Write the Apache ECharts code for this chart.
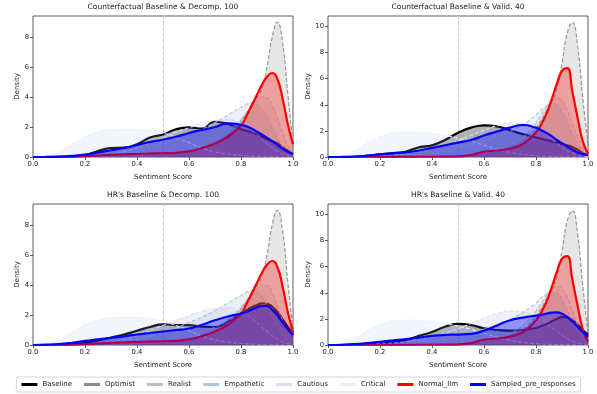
<!DOCTYPE html>
<html>
<head>
<meta charset="utf-8">
<script src="https://cdn.jsdelivr.net/npm/echarts@6/dist/echarts.min.js"></script>
<style>
  html, body { margin: 0; padding: 0; background: #ffffff; }
  #chart { width: 597px; height: 394px; }
</style>
</head>
<body>
<div id="chart"></div>
<script>
// Sentiment score grid shared by every density curve
const scoreGrid = [0, 0.05, 0.1, 0.15, 0.2, 0.25, 0.3, 0.35, 0.4, 0.45, 0.5, 0.55, 0.6, 0.65, 0.7, 0.75,
                   0.8, 0.82, 0.84, 0.86, 0.88, 0.9, 0.92, 0.94, 0.96, 0.98, 1.0];

const panelTitles = [
  'Counterfactual Baseline & Decomp. 100',
  'Counterfactual Baseline & Valid. 40',
  "HR's Baseline & Decomp. 100",
  "HR's Baseline & Valid. 40"
];

const seriesNames = ['Baseline', 'Optimist', 'Realist', 'Empathetic', 'Cautious', 'Critical', 'Normal_llm', 'Sampled_pre_responses'];

const xTicks = [0, 0.2, 0.4, 0.6, 0.8, 1.0];
const yTicksDecomp = [0, 2, 4, 6, 8];
const yTicksValid = [0, 2, 4, 6, 8, 10];
const yMaxDecomp = 9.4;
const yMaxValid = 10.8;

// Baselines
const baselineCfDecomp = [0, 0, 0.01, 0.03, 0.12, 0.4, 0.6, 0.62, 0.85, 1.3, 1.5, 1.85, 1.97, 1.9, 2.35, 2.2,
                          1.85, 1.75, 1.65, 1.5, 1.35, 1.2, 1.05, 0.9, 0.65, 0.4, 0.2];
const baselineCfValid = [0, 0, 0.02, 0.08, 0.2, 0.3, 0.42, 0.75, 0.9, 1.3, 1.85, 2.25, 2.43, 2.35, 2.05, 1.75,
                         1.5, 1.4, 1.3, 1.2, 1.1, 1.0, 0.9, 0.77, 0.55, 0.3, 0.1];
const baselineHrDecomp = [0, 0, 0.01, 0.05, 0.15, 0.3, 0.5, 0.7, 0.95, 1.2, 1.38, 1.33, 1.33, 1.22, 1.2, 1.55,
                          2.1, 2.3, 2.5, 2.65, 2.78, 2.75, 2.55, 2.2, 1.7, 1.2, 0.7];
const baselineHrValid = [0, 0, 0.01, 0.04, 0.1, 0.2, 0.38, 0.7, 1.0, 1.4, 1.62, 1.53, 1.28, 1.15, 1.1, 1.15,
                         1.3, 1.45, 1.6, 1.8, 2.0, 2.15, 2.1, 1.9, 1.55, 1.15, 0.8];

// Persona curves, Decomp. 100
const optimistDecomp = [0, 0, 0, 0, 0, 0, 0, 0, 0.01, 0.02, 0.03, 0.05, 0.2, 0.5, 0.9, 1.5,
                        2.4, 2.9, 3.4, 3.9, 4.6, 6.0, 8.0, 9.0, 7.6, 4.2, 0.9];
const realistDecomp = [0, 0, 0, 0, 0, 0, 0.01, 0.02, 0.05, 0.1, 0.2, 0.35, 0.55, 0.85, 1.2, 1.7,
                       2.5, 2.9, 3.3, 3.7, 4.0, 3.95, 3.5, 2.6, 1.6, 0.8, 0.3];
const empatheticDecomp = [0, 0, 0, 0.01, 0.03, 0.08, 0.15, 0.25, 0.4, 0.6, 0.85, 1.15, 1.5, 1.85, 2.3, 2.8,
                          3.3, 3.5, 3.6, 3.5, 3.2, 2.7, 2.0, 1.3, 0.7, 0.3, 0.1];
const cautiousDecomp = [0, 0, 0, 0.02, 0.05, 0.1, 0.2, 0.35, 0.6, 0.95, 1.3, 1.65, 1.95, 2.25, 2.45, 2.5,
                        2.25, 2.05, 1.8, 1.5, 1.2, 0.9, 0.6, 0.4, 0.2, 0.1, 0.05];
const criticalDecomp = [0, 0.08, 0.35, 0.85, 1.35, 1.68, 1.83, 1.86, 1.85, 1.78, 1.6, 1.3, 0.95, 0.6, 0.35, 0.2,
                        0.1, 0.08, 0.06, 0.04, 0.03, 0.02, 0.01, 0.01, 0, 0, 0];
const normalDecomp = [0, 0, 0, 0.01, 0.05, 0.1, 0.15, 0.18, 0.2, 0.23, 0.25, 0.27, 0.38, 0.6, 0.9, 1.35,
                      2.1, 2.7, 3.4, 4.1, 4.8, 5.35, 5.6, 5.2, 3.9, 2.2, 0.85];

// Persona curves, Valid. 40
const optimistValid = [0, 0, 0, 0, 0, 0, 0, 0, 0, 0.01, 0.02, 0.05, 0.15, 0.35, 0.7, 1.2,
                       2.2, 2.8, 3.5, 4.2, 5.2, 7.2, 9.5, 10.3, 8.5, 4.5, 0.9];
const realistValid = [0, 0, 0, 0, 0, 0, 0.01, 0.02, 0.04, 0.08, 0.15, 0.25, 0.4, 0.6, 0.9, 1.5,
                      2.6, 3.2, 3.8, 4.3, 4.5, 4.3, 3.6, 2.6, 1.5, 0.7, 0.25];
const empatheticValid = [0, 0, 0, 0.01, 0.02, 0.05, 0.1, 0.18, 0.3, 0.45, 0.65, 0.9, 1.2, 1.55, 1.95, 2.5,
                         3.2, 3.6, 3.9, 4.1, 4.0, 3.5, 2.7, 1.8, 1.0, 0.45, 0.15];
const cautiousValid = [0, 0, 0.01, 0.03, 0.08, 0.15, 0.25, 0.4, 0.6, 0.9, 1.25, 1.65, 2.05, 2.4, 2.6, 2.55,
                       2.2, 1.95, 1.65, 1.35, 1.05, 0.75, 0.5, 0.3, 0.15, 0.08, 0.03];
const criticalValid = [0, 0.1, 0.45, 1.05, 1.55, 1.83, 1.9, 1.88, 1.8, 1.65, 1.45, 1.2, 0.9, 0.6, 0.35, 0.2,
                       0.1, 0.08, 0.06, 0.04, 0.03, 0.02, 0.01, 0.01, 0, 0, 0];
const normalValid = [0, 0, 0, 0, 0, 0.01, 0.01, 0.02, 0.02, 0.03, 0.05, 0.15, 0.4, 0.5, 0.65, 1.0,
                     1.9, 2.5, 3.3, 4.4, 5.6, 6.6, 6.8, 5.0, 3.0, 1.2, 0.25];

// Sampled pre-responses
const sampledCfDecomp = [0, 0.01, 0.03, 0.08, 0.16, 0.3, 0.45, 0.6, 0.8, 1.0, 1.15, 1.35, 1.6, 1.8, 2.0, 2.25,
                         2.15, 2.05, 1.9, 1.7, 1.5, 1.28, 1.05, 0.8, 0.55, 0.35, 0.2];
const sampledCfValid = [0, 0.01, 0.03, 0.1, 0.2, 0.28, 0.35, 0.5, 0.7, 0.9, 1.1, 1.3, 1.65, 1.95, 2.25, 2.45,
                        2.25, 2.05, 1.85, 1.6, 1.3, 1.05, 0.8, 0.55, 0.35, 0.22, 0.15];
const sampledHrDecomp = [0, 0.02, 0.06, 0.15, 0.27, 0.37, 0.47, 0.58, 0.7, 0.8, 0.9, 1.0, 1.1, 1.35, 1.65, 1.9,
                         2.1, 2.2, 2.35, 2.5, 2.6, 2.6, 2.35, 2.0, 1.5, 1.05, 0.65];
const sampledHrValid = [0, 0.02, 0.06, 0.14, 0.25, 0.35, 0.45, 0.57, 0.7, 0.77, 0.8, 0.85, 1.1, 1.5, 1.9, 2.1,
                        2.25, 2.3, 2.4, 2.48, 2.5, 2.4, 2.15, 1.8, 1.4, 1.0, 0.65];

const decompSet = [optimistDecomp, realistDecomp, empatheticDecomp, cautiousDecomp, criticalDecomp, normalDecomp];
const validSet = [optimistValid, realistValid, empatheticValid, cautiousValid, criticalValid, normalValid];

const panels = [
  { baseline: baselineCfDecomp, set: decompSet, sampled: sampledCfDecomp, yMax: yMaxDecomp, yTicks: yTicksDecomp },
  { baseline: baselineCfValid,  set: validSet,  sampled: sampledCfValid,  yMax: yMaxValid,  yTicks: yTicksValid },
  { baseline: baselineHrDecomp, set: decompSet, sampled: sampledHrDecomp, yMax: yMaxDecomp, yTicks: yTicksDecomp },
  { baseline: baselineHrValid,  set: validSet,  sampled: sampledHrValid,  yMax: yMaxValid,  yTicks: yTicksValid }
];

// Line and fill style per curve
const styles = {
  Baseline:              { color: '#000000', width: 2.2, dash: 'solid', fill: 'rgba(0,0,0,0.3)', opacity: 1 },
  Optimist:              { color: '#8c8c8c', width: 1.2, dash: [4, 2], fill: 'rgba(128,128,128,0.2)', opacity: 0.9 },
  Realist:               { color: '#bdbdbd', width: 1.2, dash: [4, 2], fill: 'rgba(142,142,142,0.15)', opacity: 0.9 },
  Empathetic:            { color: '#b0c4de', width: 1.2, dash: [4, 2], fill: 'rgba(122,155,208,0.15)', opacity: 0.9 },
  Cautious:              { color: '#dcdcf5', width: 1.2, dash: [4, 2], fill: 'rgba(142,142,222,0.14)', opacity: 0.9 },
  Critical:              { color: '#e8eff9', width: 1.2, dash: [4, 2], fill: 'rgba(168,188,235,0.15)', opacity: 0.9 },
  Normal_llm:            { color: '#ff0000', width: 2.2, dash: 'solid', fill: 'rgba(255,0,0,0.3)', opacity: 1 },
  Sampled_pre_responses: { color: '#0000ff', width: 2.2, dash: 'solid', fill: 'rgba(0,0,255,0.35)', opacity: 1 }
};

const gridBoxes = [
  { left: 33,  top: 16,  width: 260, height: 141 },
  { left: 328, top: 16,  width: 260, height: 141 },
  { left: 33,  top: 204, width: 260, height: 141 },
  { left: 328, top: 204, width: 260, height: 141 }
];

const font = 'DejaVu Sans';
const grids = [], xAxes = [], yAxes = [], titles = [], series = [];

gridBoxes.forEach((g, i) => {
  const p = panels[i];
  grids.push({ left: g.left, top: g.top, width: g.width, height: g.height, show: true,
               borderColor: '#333', borderWidth: 0.8, backgroundColor: 'transparent' });
  xAxes.push({
    gridIndex: i, type: 'value', min: 0, max: 1, interval: 0.2,
    name: 'Sentiment Score', nameLocation: 'middle', nameGap: 17,
    nameTextStyle: { fontFamily: font, fontSize: 7, color: '#222' },
    axisLine: { show: false },
    axisTick: { show: true, length: 3, lineStyle: { color: '#333', width: 0.8 }, customValues: xTicks },
    axisLabel: { fontFamily: font, fontSize: 6.8, color: '#222', margin: 4,
                 formatter: v => v.toFixed(1), customValues: xTicks },
    splitLine: { show: false }
  });
  yAxes.push({
    gridIndex: i, type: 'value', min: 0, max: p.yMax, interval: 2,
    name: 'Density', nameLocation: 'middle', nameGap: i % 2 === 0 ? 12 : 15,
    nameTextStyle: { fontFamily: font, fontSize: 7, color: '#222' },
    axisLine: { show: false },
    axisTick: { show: true, length: 3, lineStyle: { color: '#333', width: 0.8 }, customValues: p.yTicks },
    axisLabel: { fontFamily: font, fontSize: 6.8, color: '#222', margin: 4, customValues: p.yTicks },
    splitLine: { show: false }
  });
  titles.push({
    text: panelTitles[i], left: g.left + g.width / 2, top: g.top - 13, textAlign: 'center', padding: 0,
    textStyle: { fontFamily: font, fontSize: 7.5, fontWeight: 'normal', color: '#222' }
  });

  // Each curve sits on its own layer so its fill covers the earlier curves' lines
  const curves = [p.baseline, ...p.set, p.sampled];
  curves.forEach((vals, k) => {
    const name = seriesNames[k];
    const s = styles[name];
    const item = {
      name: name, type: 'line', xAxisIndex: i, yAxisIndex: i, z: 2 + k,
      data: scoreGrid.map((x, j) => [x, vals[j]]),
      smooth: 0.5, showSymbol: false, silent: true,
      lineStyle: { color: s.color, width: s.width, type: s.dash, opacity: s.opacity },
      itemStyle: { color: s.color },
      areaStyle: { color: s.fill, opacity: 1 },
      emphasis: { disabled: true }
    };
    if (k === 0) {
      item.markLine = {
        silent: true, symbol: 'none', label: { show: false }, z: 1,
        lineStyle: { color: '#cccccc', type: [4, 2], width: 1 },
        data: [{ xAxis: 0.5 }]
      };
    }
    series.push(item);
  });
});

const chart = echarts.init(document.getElementById('chart'), null, { renderer: 'canvas' });
chart.setOption({
  animation: false,
  backgroundColor: '#ffffff',
  title: titles,
  grid: grids,
  xAxis: xAxes,
  yAxis: yAxes,
  legend: {
    data: seriesNames,
    left: 'center', top: 377, width: 585,
    icon: 'rect', itemWidth: 16, itemHeight: 3, itemGap: 12,
    borderColor: '#cccccc', borderWidth: 0.8, borderRadius: 2,
    padding: [4, 5],
    textStyle: { fontFamily: font, fontSize: 7, color: '#222' },
    selectedMode: false
  },
  series: series
});
</script>
</body>
</html>
